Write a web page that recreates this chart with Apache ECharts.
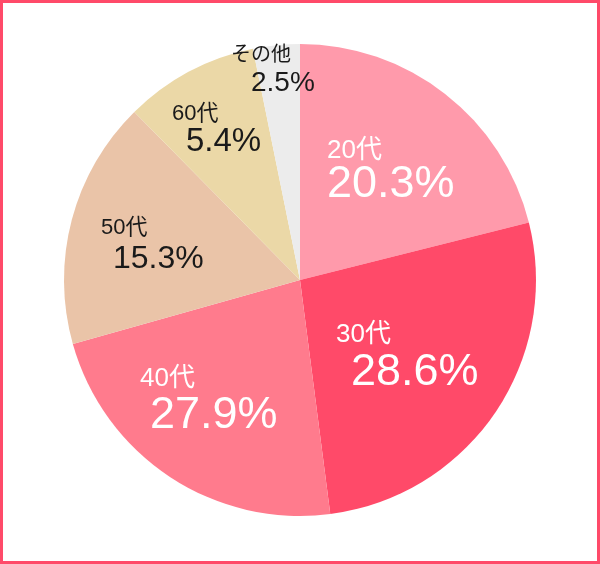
<!doctype html>
<html>
<head>
    <meta charset="utf-8">
    <title>年代別構成比</title>
    <script src="https://cdn.jsdelivr.net/npm/echarts@6/dist/echarts.min.js"></script>
    <style>
        html, body { margin: 0; padding: 0; background: #fff; }
        #container { width: 600px; height: 564px; }
        #frame { position: absolute; left: 0; top: 0; width: 600px; height: 564px;
                 box-sizing: border-box; border: 3px solid #ff4a69; pointer-events: none; }
    </style>
</head>
<body>
    <div id="container"></div>
    <div id="frame"></div>

    <script type="text/javascript">
        // 年代
        var ageNames = ['20代', '30代', '40代', '50代', '60代', 'その他'];
        // 図に描かれた扇形の大きさ(角度から読んだ値)
        var sliceValues = [21.1, 26.9, 22.7, 17.0, 9.2, 3.2];
        // 図に書かれている割合
        var shareLabels = ['20.3%', '28.6%', '27.9%', '15.3%', '5.4%', '2.5%'];

        // 見た目
        var sliceColors = ['#ff9aab', '#ff4a69', '#ff7b8d', '#eac4a8', '#ebd8a7', '#ececec'];
        var textColors = ['#fff', '#fff', '#fff', '#1a1a1a', '#1a1a1a', '#1a1a1a'];
        var nameSizes = [26, 26, 26, 22, 22, 20];
        var valueSizes = [45, 45, 45, 32, 33, 28];
        // ラベル位置 [名前x, 名前y, 数値x, 数値y]
        var labelPos = [
            [327, 151, 327, 185],
            [336, 335, 351, 373],
            [140, 379, 150, 416],
            [101, 228, 113, 259],
            [172, 114, 186, 142],
            [231, 55, 251, 83]
        ];

        var fontFamily = "'Liberation Sans', 'Noto Sans CJK JP', sans-serif";

        function buildData(isValue) {
            return ageNames.map(function(name, i) {
                return {
                    name: name,
                    value: sliceValues[i],
                    itemStyle: { color: isValue ? 'rgba(0,0,0,0)' : sliceColors[i] },
                    label: {
                        color: textColors[i],
                        fontSize: isValue ? valueSizes[i] : nameSizes[i]
                    }
                };
            });
        }

        function layoutFor(isValue) {
            return function(params) {
                var p = labelPos[params.dataIndex];
                return {
                    x: isValue ? p[2] : p[0],
                    y: isValue ? p[3] : p[1],
                    align: 'left',
                    verticalAlign: 'middle'
                };
            };
        }

        var baseSeries = {
            type: 'pie',
            center: [300, 280],
            radius: [0, 236],
            startAngle: 90,
            clockwise: true,
            animation: false,
            silent: true,
            labelLine: { show: false },
            itemStyle: { borderWidth: 0 }
        };

        var option = {
            series: [
                Object.assign({}, baseSeries, {
                    name: 'name',
                    label: {
                        show: true,
                        position: 'inside',
                        formatter: '{b}',
                        fontFamily: fontFamily,
                        fontWeight: 'normal'
                    },
                    labelLayout: layoutFor(false),
                    data: buildData(false)
                }),
                Object.assign({}, baseSeries, {
                    name: 'value',
                    label: {
                        show: true,
                        position: 'inside',
                        formatter: function(p) { return shareLabels[p.dataIndex]; },
                        fontFamily: fontFamily,
                        fontWeight: 'normal'
                    },
                    labelLayout: layoutFor(true),
                    data: buildData(true)
                })
            ]
        };

        var myChart = echarts.init(document.getElementById('container'));
        myChart.setOption(option);
    </script>
</body>
</html>
